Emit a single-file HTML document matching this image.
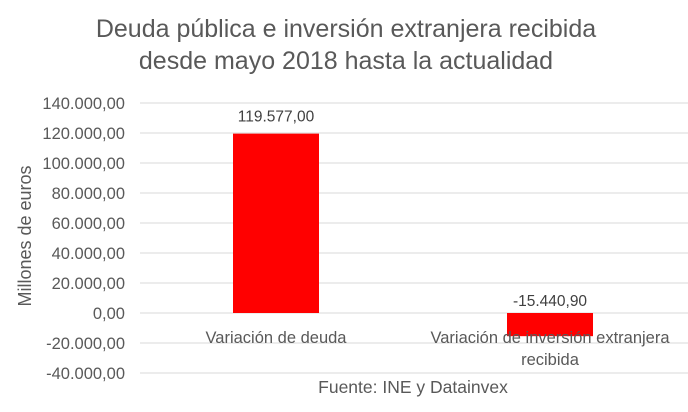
<!DOCTYPE html>
<html><head><meta charset="utf-8"><style>
body{margin:0;background:#fff;font-family:"Liberation Sans",sans-serif;}
svg{display:block}
</style></head><body>
<svg width="688" height="412">
<g id="grid"></g>
<g id="bars"></g>
<g id="ticks"></g>
<text x="346" y="37" text-anchor="middle" font-size="25" fill="#595959">Deuda pública e inversión extranjera recibida</text>
<text x="346" y="69" text-anchor="middle" font-size="25" fill="#595959">desde mayo 2018 hasta la actualidad</text>
<text transform="translate(31,236) rotate(-90)" text-anchor="middle" font-size="18" fill="#595959">Millones de euros</text>
<text x="413" y="393" text-anchor="middle" font-size="17.5" fill="#595959">Fuente: INE y Datainvex</text>
</svg>
<script>
const categories=["Variación de deuda","Variación de inversión extranjera|recibida"];
const values=[119577.00,-15440.90];
const valueLabels=["119.577,00","-15.440,90"];
const tickValues=[140000,120000,100000,80000,60000,40000,20000,0,-20000,-40000];
const tickLabels=["140.000,00","120.000,00","100.000,00","80.000,00","60.000,00","40.000,00","20.000,00","0,00","-20.000,00","-40.000,00"];
const NS="http://www.w3.org/2000/svg";
const y=v=>313-v/20000*30;
const xl=140,xr=688,bw=(xr-xl)/categories.length;
const xc=i=>xl+bw*(i+0.5)-1;
function mk(t,a,p,txt){const e=document.createElementNS(NS,t);for(const k in a)e.setAttribute(k,a[k]);if(txt!=null)e.textContent=txt;p.appendChild(e);return e;}
const g=document.getElementById('grid'),tk=document.getElementById('ticks'),bs=document.getElementById('bars');
tickValues.forEach((v,i)=>{
 const l=mk('line',{x1:xl,x2:xr,y1:y(v),y2:y(v),stroke:'#d9d9d9','stroke-width':1},g);
 
 
 const t=mk('text',{x:125,y:y(v)+6,'text-anchor':'end','font-size':16.5,fill:'#595959'},tk,tickLabels[i]);
 
 
});
values.forEach((v,i)=>{
 const w=86,x=xc(i)-w/2,top=Math.min(y(v),y(0)),h=Math.abs(y(v)-y(0));
 const r=mk('rect',{x:x,y:top,width:w,height:h,fill:'#ff0000'},bs);
 
 
 const ly=v>=0?y(v)-12:y(0)-7;
 const t=mk('text',{x:xc(i),y:ly,'text-anchor':'middle','font-size':15.5,fill:'#404040'},bs,valueLabels[i]);
 
 
 categories[i].split('|').forEach((s,j)=>{
  const c=mk('text',{x:xc(i),y:343+j*22,'text-anchor':'middle','font-size':16.5,fill:'#595959'},bs,s);
  
  
 });
});
</script>
</body></html>
